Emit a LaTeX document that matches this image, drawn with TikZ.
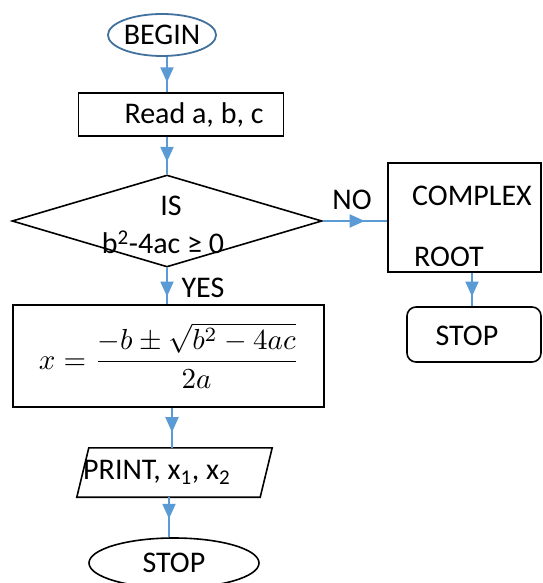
\documentclass[tikz,border=0pt]{standalone}
\usepackage{amsmath}
\usepackage{graphicx}
\usepackage[no-math]{fontspec}
\setmainfont{Carlito}
\usetikzlibrary{shapes.geometric,arrows.meta,decorations.markings}
\definecolor{flowblue}{HTML}{5B9BD5}
\definecolor{startblue}{HTML}{41719C}
\begin{document}
\begin{tikzpicture}[x=1pt,y=-1pt,
  every node/.style={font=\fontsize{30}{38}\selectfont, inner sep=0pt},
  outline/.style={draw=black, line width=1.6pt},
  flow/.style={draw=flowblue, line width=2pt, postaction={decorate},
    decoration={markings, mark=at position #1 with
      {\arrow{Triangle[width=13pt,length=15pt,color=flowblue]}}}},
  flow/.default=0.7]
\useasboundingbox (0,0) rectangle (542,583);

% columns along which the vertical connectors run
\coordinate (colA) at (167,0);
\coordinate (colB) at (172,0);
\coordinate (colC) at (169,0);
\coordinate (colD) at (472,0);

% terminator
\node[ellipse, draw=startblue, line width=1.8pt,
      minimum width=104, minimum height=42] (begin) at (162,35) {BEGIN};

% input
\node[outline, minimum width=205, minimum height=43] (read) at (181,114.5) {};
\node (readtxt) at (194,115) {Read a, b, c};

% decision
\node[diamond, outline, aspect=3.37, minimum width=310, minimum height=92] (test) at (167,221) {};
\node[anchor=base] (istxt) at (171,215.5) {IS};
\node[anchor=base] (condtxt) at (163,253.5) {b\textsuperscript{2}-4ac ≥ 0};
\node (no) at (352,200) {NO};
\node (yes) at (203,288) {YES};

% complex branch
\node[outline, minimum width=153, minimum height=109] (cplx) at (464.5,217.5) {};
\node (cplxtxt) at (472,196) {COMPLEX};
\begin{scope}
  \clip (388,163) rectangle (541,265);
  \node[anchor=west] (roottxt) at (414,257) {ROOT};
\end{scope}
\node[outline, rounded corners=9pt, minimum width=134, minimum height=55] (stopr) at (474,334.5) {};
\node (stoprtxt) at (467,336) {STOP};

% real roots
\node[outline, minimum width=311, minimum height=102] (calc) at (168.5,356) {};
\node[anchor=base, font=\fontsize{10}{12}\selectfont] (formula) at (169,369)
  {\scalebox{2.9}{$\displaystyle x = \frac{-b \pm \sqrt{b^2-4ac}}{2a}$}};

% output
\node[minimum width=183, minimum height=49] (print) at (174.5,472.5) {};
\draw[outline] ([xshift=6]print.north west) -- ([xshift=6]print.north east)
  -- ([xshift=-6]print.south east) -- ([xshift=-6]print.south west) -- cycle;
\node[anchor=west] (printtxt) at (83,472) {PRINT, x\textsubscript{1}, x\textsubscript{2}};

\node[ellipse, outline, minimum width=170, minimum height=50] (stop) at (174,563) {STOP};

% connectors
\draw[flow=0.72] (begin.south -| colA) -- (read.north -| colA);
\draw[flow=0.67] (read.south -| colA) -- (test.north);
\draw[flow=0.65] (test.east) -- (test.east -| cplx.west);
\draw[flow=0.79] (test.south) -- (test.south |- calc.north);
\draw[flow=0.71] (cplx.south -| colD) -- (stopr.north -| colD);
\draw[flow=0.61] (calc.south -| colB) -- (print.north -| colB);
\draw[flow=0.54] (print.south -| colC) -- (stop.north -| colC);
\end{tikzpicture}
\end{document}
